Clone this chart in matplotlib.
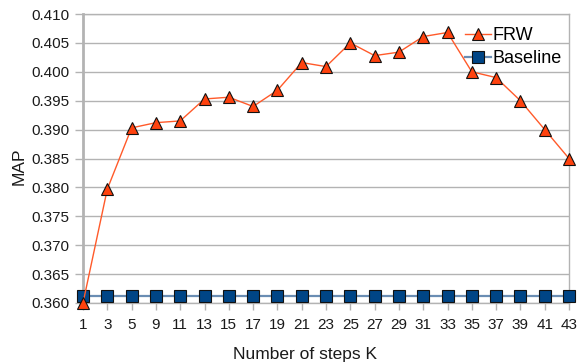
import matplotlib
matplotlib.use("Agg")
import matplotlib.pyplot as plt
from matplotlib.ticker import FixedLocator

plt.rcParams['font.family'] = ['Liberation Sans', 'DejaVu Sans']

steps = [1, 3, 5, 9, 11, 13, 15, 17, 19, 21, 23, 25, 27, 29, 31, 33, 35, 37, 39, 41, 43]
frw = [0.3600, 0.3797, 0.3903, 0.3912, 0.3915, 0.3953, 0.3956, 0.3940, 0.3968,
       0.4016, 0.4009, 0.4050, 0.4028, 0.4034, 0.4061, 0.4068, 0.4000, 0.3990,
       0.3950, 0.3900, 0.3850]
baseline = [0.3612] * len(steps)
y_ticks = [0.360, 0.365, 0.370, 0.375, 0.380, 0.385, 0.390, 0.395, 0.400, 0.405, 0.410]

grid_col = '#b3b3b3'

fig = plt.figure(figsize=(5.81, 3.62), dpi=100)
ax = fig.add_axes([83 / 581, 1 - 303 / 362, 486 / 581, 289 / 362])

pos = list(range(len(steps)))
ax.plot(pos, baseline, color='#6a8db3', lw=1.6, marker='s', markersize=8.5,
        markerfacecolor='#004586', markeredgecolor='#111111', markeredgewidth=0.8,
        label='Baseline', zorder=3, clip_on=False)
ax.plot(pos, frw, color='#ff5a2a', lw=1.0, marker='^', markersize=8.5,
        markerfacecolor='#ff420e', markeredgecolor='#111111', markeredgewidth=0.8,
        label='FRW', zorder=4, clip_on=False)

ax.set_xlim(0, len(steps) - 1)
ax.set_ylim(0.360, 0.410)
ax.set_xticks(pos)
ax.set_xticklabels([str(s) for s in steps])
ax.yaxis.set_major_locator(FixedLocator(y_ticks))
ax.set_yticklabels([f"{v:.3f}" for v in y_ticks])

ax.grid(axis='y', color=grid_col, lw=1.0)
ax.set_axisbelow(True)
for side in ['top', 'right', 'bottom']:
    ax.spines[side].set_color(grid_col)
    ax.spines[side].set_linewidth(1.0)
ax.spines['left'].set_color(grid_col)
ax.spines['left'].set_linewidth(2.0)

ax.tick_params(axis='x', length=5, width=1, color=grid_col, pad=6, labelsize=11, labelcolor='#1a1a1a')
ax.tick_params(axis='y', length=6, width=1, color=grid_col, pad=4, labelsize=11, labelcolor='#1a1a1a')

ax.set_xlabel('Number of steps K', fontsize=12.5, color='#1a1a1a')
ax.xaxis.set_label_coords(0.457, -0.153)
ax.set_ylabel('MAP', fontsize=12.5, color='#1a1a1a')
ax.yaxis.set_label_coords(-0.117, 0.474)

handles, labels = ax.get_legend_handles_labels()
ax.legend(handles[::-1], labels[::-1], loc='upper right', bbox_to_anchor=(1.0, 0.98),
          frameon=False, fontsize=13, handlelength=1.4, handletextpad=0.1,
          labelspacing=0.35, borderaxespad=0.0)

fig.savefig('out.png', dpi=100)
